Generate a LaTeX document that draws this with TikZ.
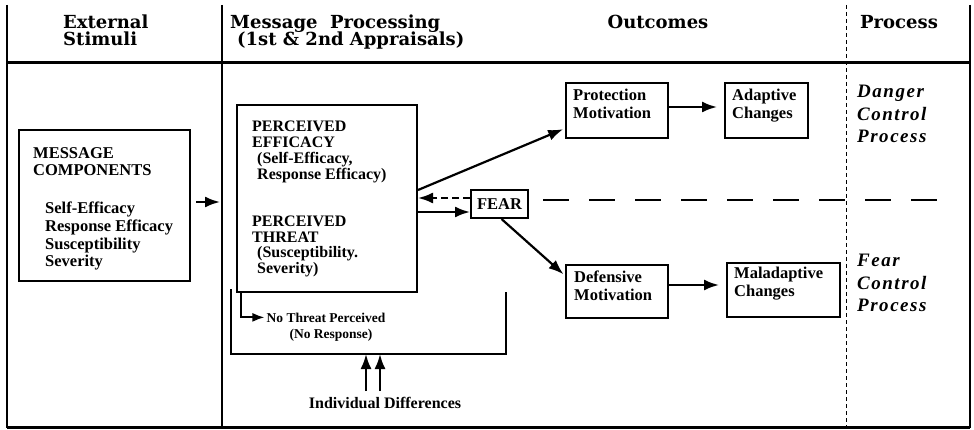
\documentclass[tikz,border=0pt]{standalone}
\usepackage{fontspec}
\setmainfont{Liberation Serif}
\newfontfamily\hdfont{DejaVu Serif}
\newfontfamily\prfont[LetterSpace=8]{Liberation Serif}
\usetikzlibrary{arrows.meta}
\begin{document}
\begin{tikzpicture}[x=1pt,y=-1pt,
  box/.style={draw, line width=2pt, inner sep=0pt},
  con/.style={line width=2.2pt},
  arr/.style={-{Latex[length=15pt,width=11pt]}},
  txt/.style={inner sep=0pt, align=left, anchor=north west, font=\bfseries\fontsize{16.5}{17.7}\selectfont},
  ptxt/.style={inner sep=0pt, align=left, anchor=north west, font=\bfseries\fontsize{16}{15.7}\selectfont},
  hd/.style={inner sep=0pt, anchor=base west, font=\hdfont\bfseries\fontsize{18}{18}\selectfont},
  pr/.style={inner sep=0pt, align=left, anchor=north west, font=\prfont\bfseries\itshape\fontsize{19}{22.5}\selectfont},
  sm/.style={inner sep=0pt, anchor=base, font=\bfseries\fontsize{13.5}{15}\selectfont}]
\useasboundingbox (0,0) rectangle (974,430);

% frame
\coordinate (f1) at (7,5);
\coordinate (f2) at (7,428);
\coordinate (f3) at (970,5);
\coordinate (f4) at (970,428);
\draw[line width=2.5pt] (f1) -- (f2);
\draw[line width=2pt] (f3) -- (f4);
\draw[line width=3pt] (7,63) -- (970,63);
\draw[line width=3pt] (7,427) -- (970,427);
\draw[line width=1.5pt] (222,5) -- (222,428);
\draw[line width=1pt, dash pattern=on 4pt off 3pt] (846,5) -- (846,427);

% headers
\node[hd] (h1a) at (63,29) {External};
\node[hd] (h1b) at (63,46) {Stimuli};
\node[hd] (h2a) at (230,29) {Message\ \ Processing};
\node[hd] (h2b) at (237,46) {(1st \& 2nd Appraisals)};
\node[hd, anchor=base] (h3) at (658,29) {Outcomes};
\node[hd] (h4) at (860,29) {Process};

% message components
\node[box, minimum width=171pt, minimum height=151pt] (mc) at (104.5,205.5) {};
\node[txt] (mct) at (33,147) {MESSAGE\\COMPONENTS};
\node[txt] (mci) at (45,202) {Self-Efficacy\\Response Efficacy\\Susceptibility\\Severity};

% perceived
\node[box, minimum width=180pt, minimum height=187pt] (perc) at (327,198.5) {};
\node[ptxt] (pe1) at (252,121) {PERCEIVED\\EFFICACY};
\node[ptxt] (pe2) at (257,152.5) {(Self-Efficacy,\\Response Efficacy)};
\node[ptxt] (pt1) at (252,216) {PERCEIVED\\THREAT};
\node[ptxt] (pt2) at (257,246) {(Susceptibility.\\Severity)};

% fear
\node[box, minimum width=57pt, minimum height=28pt, font=\bfseries\fontsize{16.5}{17}\selectfont] (fear) at (499.5,204) {FEAR};

% outcomes
\node[box, minimum width=102pt, minimum height=55pt] (pm) at (617,110.5) {};
\node[txt] (pmt) at (573,89) {Protection\\Motivation};
\node[box, minimum width=83pt, minimum height=55pt] (ad) at (766.5,110.5) {};
\node[txt] (adt) at (732,89) {Adaptive\\Changes};
\node[box, minimum width=102pt, minimum height=53pt] (dm) at (617,291.5) {};
\node[txt] (dmt) at (574,271) {Defensive\\Motivation};
\node[box, minimum width=113pt, minimum height=54pt] (mal) at (783.5,290) {};
\node[txt] (malt) at (734,267) {Maladaptive\\Changes};

% process labels
\node[pr] (dcp) at (857,85) {Danger\\Control\\Process};
\node[pr] (fcp) at (857,254) {Fear\\Control\\Process};

% connectors
\draw[con, arr] ([xshift=5pt,yshift=3.5pt]mc.east) -- ([xshift=29pt,yshift=3.5pt]mc.east);
\draw[con, arr, shorten >=2pt] ([yshift=8.5pt]perc.east) -- (pm.199);
\draw[con, arr] ([yshift=-8pt]fear.west -| perc.east) -- ([yshift=-8pt]fear.west);
\draw[con, arr, dash pattern=on 7pt off 4pt] ([yshift=6pt]fear.west) -- ([yshift=6pt]fear.west -| perc.east);
\draw[con, arr, shorten >=2pt] ([xshift=2pt]fear.south) -- (dm.163);
\draw[con, arr, shorten >=7pt] ([yshift=3.5pt]pm.east) -- ([yshift=3.5pt]pm.east -| ad.west);
\draw[con, arr, shorten >=7pt] ([yshift=6.5pt]dm.east) -- ([yshift=6.5pt]dm.east -| mal.west);

% dashed separator
\coordinate (dl1) at (543,200);
\coordinate (dl2) at (950,200);
\draw[line width=1.6pt, dash pattern=on 26pt off 20pt] (dl1) -- (dl2);

% no threat bracket
\coordinate (br1) at (231,289);
\coordinate (br2) at (231,354);
\coordinate (br3) at (506,354);
\coordinate (br4) at (506,292);
\draw[line width=1.8pt] (br1) -- (br2) -- (br3) -- (br4);
\node[sm] (nt1) at (326,322) {No Threat Perceived};
\node[sm] (nt2) at (331,338) {(No Response)};
\draw[line width=1.8pt, -{Latex[length=12pt,width=9pt]}, shorten >=2pt] ([xshift=5pt]perc.south west) |- (nt1.west);

% individual differences
\node[sm, font=\bfseries\fontsize{16}{17}\selectfont] (id) at (385,408) {Individual Differences};
\coordinate (u1) at (366,391);
\coordinate (u2) at (380,391);
\draw[con, arr] (u1) -- (u1 |- br2);
\draw[con, arr] (u2) -- (u2 |- br2);
\end{tikzpicture}
\end{document}
